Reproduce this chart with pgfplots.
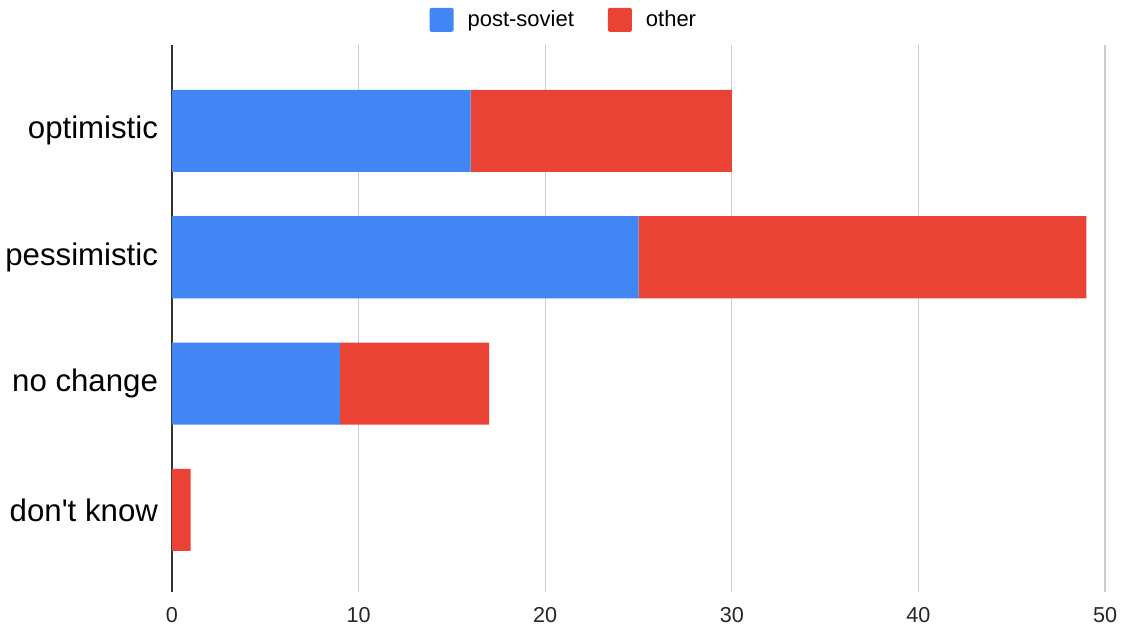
\documentclass[border=0pt]{standalone}
\usepackage{pgfplots}
\pgfplotsset{compat=1.18}
\usepackage{fontspec}
\setmainfont{Liberation Sans}
\definecolor{gblue}{HTML}{4285F4}
\definecolor{gred}{HTML}{EA4335}
\begin{document}
\begin{tikzpicture}
\begin{axis}[
name=ax,
xbar stacked,
scale only axis,
width=466.5pt, height=273.5pt,
xmin=0, xmax=50,
ymin=-0.65, ymax=3.68,
bar width=0.65,
ytick={0,1,2,3},
yticklabels={don\textquotesingle t know, no change, pessimistic, optimistic},
yticklabel style={font=\fontsize{15.6}{18}\selectfont, color=black, xshift=-3.5pt},
xtick={0,10,...,50},
xticklabel style={font=\fontsize{10.8}{12}\selectfont, color=black!85, yshift=-4pt},
/pgf/number format/assume math mode=true,
major tick length=0pt,
xmajorgrids,
grid style={draw=black!20, line width=0.6pt},
axis x line*=bottom,
axis y line*=left,
x axis line style={draw=none},
y axis line style={draw=black!80, line width=0.9pt, -},
legend style={at={(0.421,1.046)}, anchor=center, draw=none, fill=none,
  legend columns=2, font=\fontsize{11}{13}\selectfont,
  /tikz/every odd column/.append style={column sep=5pt},
  /tikz/every even column/.append style={column sep=15pt}},
legend image code/.code={\fill[#1, rounded corners=1pt] (0pt,-6pt) rectangle (12pt,6pt);},
]
\addplot[fill=gblue, draw=none] coordinates {(16,3) (25,2) (9,1) (0,0)};
\addplot[fill=gred, draw=none] coordinates {(14,3) (24,2) (8,1) (1,0)};
\legend{post-soviet, other}
\end{axis}
\pgfresetboundingbox
\path ([shift={(-86pt,-20.5pt)}]ax.south west) rectangle ([shift={(475pt,296pt)}]ax.south west);
\end{tikzpicture}
\end{document}
